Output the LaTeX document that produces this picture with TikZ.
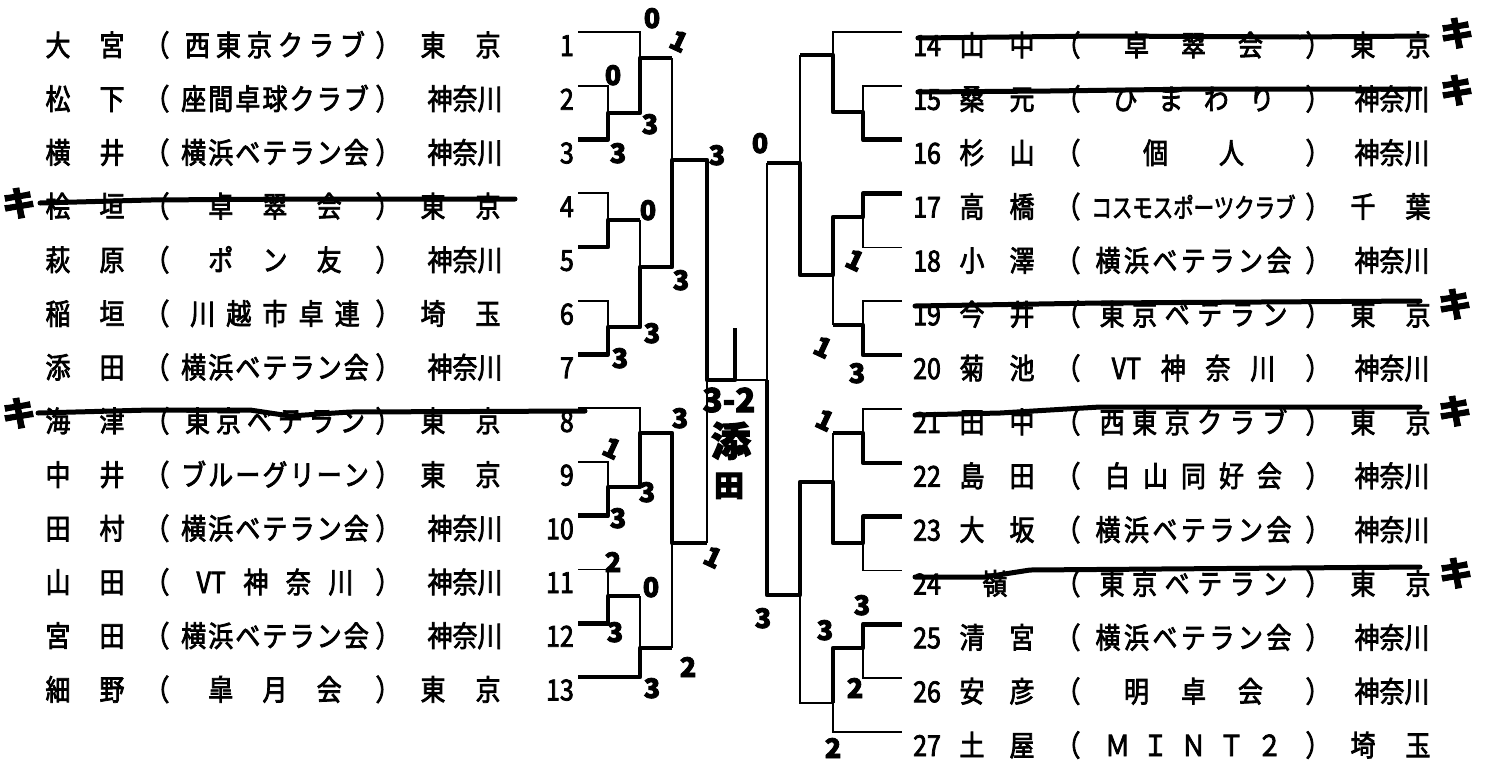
\documentclass[tikz,border=0pt]{standalone}
\usepackage{fontspec}
\usepackage{graphicx}
\newfontfamily\jp[FakeStretch=0.86,FakeBold=2.6]{Noto Sans CJK JP}
\newfontfamily\hw[FakeBold=3]{Noto Sans CJK JP}
\newcommand\cl[1]{\hfil#1\hfil}
\newcommand\YBV{\cl{横}\cl{浜}\cl{ベ}\cl{テ}\cl{ラ}\cl{ン}\cl{会}}
\newcommand\TKV{\cl{東}\cl{京}\cl{ベ}\cl{テ}\cl{ラ}\cl{ン}}
\newcommand\NTK{\cl{西}\cl{東}\cl{京}\cl{ク}\cl{ラ}\cl{ブ}}
\newcommand\LRow[6]{%
  \pgfmathsetmacro\yy{45+53.7*(#1-1)}%
  \node[tx] (l#1a) at (58,\yy) {#2};
  \node[tx] (l#1b) at (112,\yy) {#3};
  \node[tx] (l#1o) at (157,\yy) {（};
  \node[tx] (l#1c) at (275,\yy) {\makebox[192pt]{#4}};
  \node[tx] (l#1p) at (388,\yy) {）};
  \node[tx,anchor=east] (l#1n) at (574,\yy) {#1};
  \if\relax\detokenize{#6}\relax
    \node[tx] (l#1r) at (465,\yy) {#5};
  \else
    \node[tx] (l#1r) at (433,\yy) {#5};
    \node[tx] (l#1s) at (488,\yy) {#6};
  \fi
}
\newcommand\RRow[6]{%
  \pgfmathsetmacro\yy{45+53.85*(#1-14)}%
  \node[tx,anchor=west] (r#1n) at (913,\yy) {#1};
  \node[tx] (r#1a) at (972,\yy) {#2};
  \node[tx] (r#1b) at (1022,\yy) {#3};
  \node[tx] (r#1o) at (1068,\yy) {（};
  \node[tx] (r#1c) at (1193.5,\yy) {\makebox[203pt]{#4}};
  \node[tx] (r#1p) at (1318,\yy) {）};
  \if\relax\detokenize{#6}\relax
    \node[tx] (r#1r) at (1392,\yy) {#5};
  \else
    \node[tx] (r#1r) at (1363,\yy) {#5};
    \node[tx] (r#1s) at (1418,\yy) {#6};
  \fi
}
\begin{document}
\begin{tikzpicture}[x=1pt,y=-1pt,
  tx/.style={font=\jp\fontsize{29}{29}\selectfont, inner sep=0pt, text height=22pt, text depth=0pt},
  hwd/.style={font=\hw\bfseries\fontsize{27}{27}\selectfont, inner sep=0pt, text height=20pt, text depth=0pt},
  hwk/.style={font=\hw\bfseries\fontsize{34}{34}\selectfont, inner sep=0pt, text height=26pt, text depth=0pt},
  ln/.style={line width=1.6pt},
  win/.style={line width=4.6pt, line join=round},
  strike/.style={line width=5pt, line join=round, line cap=round}]
\fill[white] (0,0) rectangle (1485,764);
\useasboundingbox (0,0) rectangle (1485,764);

% ---------- left entries ----------
\LRow{1}{大}{宮}{\NTK}{東}{京}
\LRow{2}{松}{下}{\cl{座}\cl{間}\cl{卓}\cl{球}\cl{ク}\cl{ラ}\cl{ブ}}{神奈川}{}
\LRow{3}{横}{井}{\YBV}{神奈川}{}
\LRow{4}{桧}{垣}{\cl{卓}\cl{翠}\cl{会}}{東}{京}
\LRow{5}{萩}{原}{\cl{ポ}\cl{ン}\cl{友}}{神奈川}{}
\LRow{6}{稲}{垣}{\cl{川}\cl{越}\cl{市}\cl{卓}\cl{連}}{埼}{玉}
\LRow{7}{添}{田}{\YBV}{神奈川}{}
\LRow{8}{海}{津}{\TKV}{東}{京}
\LRow{9}{中}{井}{\cl{ブ}\cl{ル}\cl{ー}\cl{グ}\cl{リ}\cl{ー}\cl{ン}}{東}{京}
\LRow{10}{田}{村}{\YBV}{神奈川}{}
\LRow{11}{山}{田}{\cl{VT}\cl{神}\cl{奈}\cl{川}}{神奈川}{}
\LRow{12}{宮}{田}{\YBV}{神奈川}{}
\LRow{13}{細}{野}{\cl{皐}\cl{月}\cl{会}}{東}{京}

% ---------- right entries ----------
\RRow{14}{山}{中}{\cl{卓}\cl{翠}\cl{会}}{東}{京}
\RRow{15}{桑}{元}{\cl{ひ}\cl{ま}\cl{わ}\cl{り}}{神奈川}{}
\RRow{16}{杉}{山}{\cl{個}\cl{人}}{神奈川}{}
\RRow{17}{高}{橋}{\scalebox{0.82}[0.92]{コスモスポーツクラブ}}{千}{葉}
\RRow{18}{小}{澤}{\YBV}{神奈川}{}
\RRow{19}{今}{井}{\TKV}{東}{京}
\RRow{20}{菊}{池}{\cl{VT}\cl{神}\cl{奈}\cl{川}}{神奈川}{}
\RRow{21}{田}{中}{\NTK}{東}{京}
\RRow{22}{島}{田}{\cl{白}\cl{山}\cl{同}\cl{好}\cl{会}}{神奈川}{}
\RRow{23}{大}{坂}{\YBV}{神奈川}{}
\RRow{24}{}{}{\TKV}{東}{京}
\node[tx] (r24m) at (995,583.35) {嶺};
\RRow{25}{清}{宮}{\YBV}{神奈川}{}
\RRow{26}{安}{彦}{\cl{明}\cl{卓}\cl{会}}{神奈川}{}
\RRow{27}{土}{屋}{\cl{Ｍ}\cl{Ｉ}\cl{Ｎ}\cl{Ｔ}\cl{２}}{埼}{玉}

% ---------- left bracket: thin ----------
\draw[ln] (578,32)--(640,32)--(640,58);
\draw[ln] (578,85.75)--(608,85.75)--(608,113);
\draw[ln] (578,193.25)--(608,193.25)--(608,220);
\draw[ln] (578,300.75)--(608,300.75)--(608,327);
\draw[ln] (640,220)--(640,267);
\draw[ln] (672,58)--(672,160);
\draw[ln] (735,380)--(767,380);
\draw[ln] (707,380)--(707,543);
\draw[ln] (578,408.25)--(640,408.25)--(640,433);
\draw[ln] (578,462)--(608,462)--(608,487);
\draw[ln] (672,543)--(672,648);
\draw[ln] (640,648)--(640,596);
\draw[ln] (608,596)--(608,569.5)--(578,569.5);
% ---------- left bracket: winners ----------
\draw[win] (672,58)--(640,58)--(640,113)--(608,113)--(608,139.5)--(578,139.5);
\draw[win] (640,220)--(608,220)--(608,247)--(578,247);
\draw[win] (735,328)--(735,380)--(707,380)--(707,160)--(672,160)--(672,267)--(640,267)--(640,327)--(608,327)--(608,354.5)--(578,354.5);
\draw[win] (707,543)--(672,543)--(672,433)--(640,433)--(640,487)--(608,487)--(608,515.75)--(578,515.75);
\draw[win] (672,648)--(640,648)--(640,677)--(578,677);
\draw[win] (640,596)--(608,596)--(608,623.25)--(578,623.25);

% ---------- right bracket: thin ----------
\draw[ln] (902,32)--(833,32)--(833,55);
\draw[ln] (902,85.85)--(863,85.85)--(863,112);
\draw[ln] (800,55)--(800,163);
\draw[ln] (863,217)--(863,247.4)--(902,247.4);
\draw[ln] (833,275)--(833,325);
\draw[ln] (863,325)--(863,301.25)--(902,301.25);
\draw[ln] (767,163)--(767,380);
\draw[ln] (833,482)--(833,433);
\draw[ln] (863,433)--(863,408.95)--(902,408.95);
\draw[ln] (863,543)--(863,570.5)--(902,570.5);
\draw[ln] (800,595)--(800,703)--(833,703);
\draw[ln] (863,648)--(863,678.2)--(902,678.2);
\draw[ln] (833,703)--(833,732.05)--(902,732.05);
% ---------- right bracket: winners ----------
\draw[win] (800,55)--(833,55)--(833,112)--(863,112)--(863,139.7)--(902,139.7);
\draw[win] (767,163)--(800,163)--(800,275)--(833,275)--(833,217)--(863,217)--(863,193.55)--(902,193.55);
\draw[win] (833,325)--(863,325)--(863,355.1)--(902,355.1);
\draw[win] (767,380)--(767,595)--(800,595)--(800,482)--(833,482)--(833,543)--(863,543)--(863,516.65)--(902,516.65);
\draw[win] (833,433)--(863,433)--(863,462.8)--(902,462.8);
\draw[win] (833,703)--(833,648)--(863,648)--(863,624.35)--(902,624.35);

% ---------- strike-throughs (withdrawn) ----------
\draw[strike] (40,203)--(150,200)--(300,199)--(515,199);
\draw[strike] (38,413)--(150,410)--(250,410)--(290,416)--(350,412)--(585,411);
\draw[strike] (918,38)--(1100,36)--(1300,37)--(1425,36);
\draw[strike] (918,92)--(1050,91)--(1200,89)--(1420,89);
\draw[strike] (915,306)--(1100,303)--(1420,301);
\draw[strike] (915,415)--(1000,413)--(1100,407)--(1420,407);
\draw[strike] (915,577)--(985,577)--(1030,570)--(1420,567);
\node[hwk] (k1) at (19,203) {キ};
\node[hwk] (k2) at (19,413) {キ};
\node[hwk] (k3) at (1457,33) {キ};
\node[hwk] (k4) at (1457,90) {キ};
\node[hwk] (k5) at (1455,304) {キ};
\node[hwk] (k6) at (1455,411) {キ};
\node[hwk] (k7) at (1456,573) {キ};

% ---------- scores ----------
\node[hwd] (s1) at (652,18) {0};
\node[hwd,rotate=-25] (s2) at (679,41) {1};
\node[hwd] (s3) at (613,75) {0};
\node[hwd] (s4) at (650,124) {3};
\node[hwd] (s5) at (618,153) {3};
\node[hwd] (s6) at (717,155) {3};
\node[hwd] (s7) at (648,210) {0};
\node[hwd] (s8) at (681,280) {3};
\node[hwd] (s9) at (652,333) {3};
\node[hwd] (s10) at (620,358) {3};
\node[hwd] (s11) at (680,418) {3};
\node[hwd,rotate=-25] (s12) at (612,448) {1};
\node[hwd] (s13) at (647,492) {3};
\node[hwd] (s14) at (618,518) {3};
\node[hwd,rotate=-25] (s15) at (713,557) {1};
\node[hwd] (s16) at (613,562) {2};
\node[hwd] (s17) at (651,587) {0};
\node[hwd] (s18) at (615,632) {3};
\node[hwd] (s19) at (688,667) {2};
\node[hwd] (s20) at (652,688) {3};
\node[hwd] (s21) at (760,143) {0};
\node[hwd,rotate=-25] (s22) at (855,260) {1};
\node[hwd,rotate=-25] (s23) at (823,347) {1};
\node[hwd] (s24) at (857,373) {3};
\node[hwd,rotate=-25] (s25) at (825,420) {1};
\node[hwd] (s26) at (763,618) {3};
\node[hwd] (s27) at (862,605) {3};
\node[hwd] (s28) at (825,630) {3};
\node[hwd] (s29) at (855,688) {2};
\node[hwd] (s30) at (833,748) {2};
% ---------- final ----------
\node[hwd,font=\hw\bfseries\fontsize{33}{33}\selectfont,text height=24pt] (fin) at (729,400) {3-2};
\node[hwk,font=\hw\bfseries\fontsize{40}{40}\selectfont,text height=30pt] (w1) at (731,441) {添};
\node[hwk,font=\hw\bfseries\fontsize{30}{30}\selectfont,text height=23pt] (w2) at (729,485) {田};
\end{tikzpicture}
\end{document}
